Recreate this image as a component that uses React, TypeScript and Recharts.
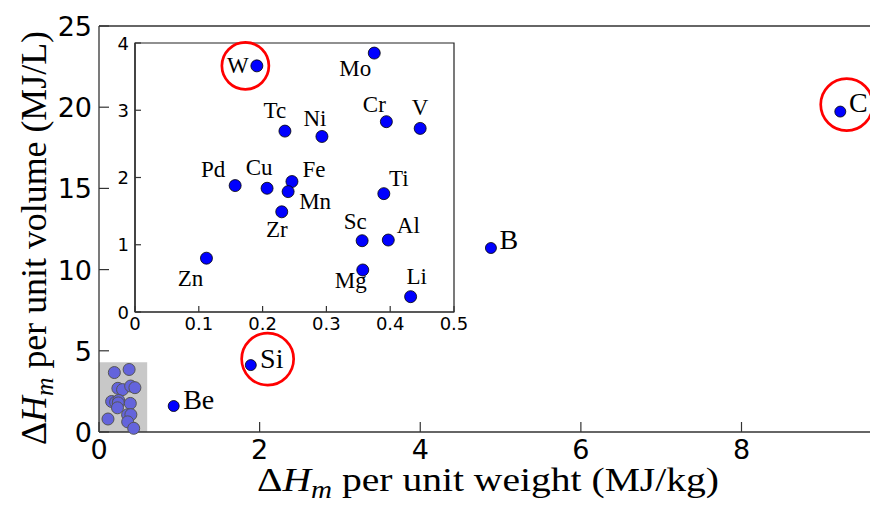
import { ScatterChart, Scatter, XAxis, YAxis, ReferenceArea, ReferenceDot, ReferenceLine } from "recharts"

// main panel: elements outside the 0-0.5 MJ/kg range
const mainNames = ["Be", "Si", "B", "C"]
const mainWeight = [0.93, 1.89, 4.88, 9.23]
const mainVolume = [1.6, 4.12, 11.33, 19.73]

// inset: zoom on the low-weight metals
const insetNames = ["W", "Mo", "Tc", "Ni", "Cr", "V", "Pd", "Cu", "Fe", "Mn", "Ti", "Zr", "Sc", "Al", "Zn", "Mg", "Li"]
const insetWeight = [0.191, 0.375, 0.235, 0.293, 0.394, 0.447, 0.157, 0.207, 0.246, 0.24, 0.39, 0.23, 0.356, 0.397, 0.112, 0.357, 0.432]
const insetVolume = [3.66, 3.85, 2.69, 2.61, 2.83, 2.73, 1.88, 1.84, 1.94, 1.79, 1.76, 1.49, 1.06, 1.07, 0.8, 0.625, 0.228]

const mainXTicks = [0, 2, 4, 6, 8]
const mainYTicks = [0, 5, 10, 15, 20, 25]
const insetXTicks = [0, 0.1, 0.2, 0.3, 0.4, 0.5]
const insetYTicks = [0, 1, 2, 3, 4]

// circled candidates
const mainHighlights = [
  { x: 2.1, y: 4.49 },
  { x: 9.31, y: 20.16 },
]
const insetHighlights = [{ x: 0.173, y: 3.66 }]

// label placement relative to its dot (px)
const labelOffset: Record<string, [number, number]> = {
  Be: [25, -7],
  Si: [21, -7],
  B: [18, -9],
  C: [18, -9],
  W: [-19, 0],
  Mo: [-19, 15],
  Tc: [-10, -21],
  Ni: [-7, -18],
  Cr: [-12, -17],
  V: [0, -21],
  Pd: [-22, -16],
  Cu: [-8, -21],
  Fe: [22, -12],
  Mn: [27, 10],
  Ti: [15, -15],
  Zr: [-5, 18],
  Sc: [-7, -19],
  Al: [20, -15],
  Zn: [-16, 20],
  Mg: [-12, 11],
  Li: [6, -20],
}

const mainData = mainNames.map((name, i) => ({ name, x: mainWeight[i], y: mainVolume[i] }))
const insetData = insetNames.map((name, i) => ({ name, x: insetWeight[i], y: insetVolume[i] }))

const serif = "'Liberation Serif', 'Times New Roman', serif"
const sans = "'DejaVu Sans', sans-serif"

const labeledDot = (r: number, fontSize: number) => (props: any) => {
  const { cx, cy, payload } = props
  const [dx, dy] = labelOffset[payload.name] || [0, 0]
  return (
    <g>
      <circle cx={cx} cy={cy} r={r} fill="#0000ff" stroke="#000" strokeWidth={0.8} />
      <text
        x={cx + dx}
        y={cy + dy}
        textAnchor="middle"
        dominantBaseline="central"
        fontFamily={serif}
        fontSize={fontSize}
        fill="#000"
      >
        {payload.name}
      </text>
    </g>
  )
}

const shadedDot = (props: any) => (
  <circle cx={props.cx} cy={props.cy} r={6} fill="#6464dc" stroke="#555" strokeWidth={1} />
)

const bottomTick = (len: number, size: number, gap: number) => (props: any) => {
  const { x, y, payload } = props
  return (
    <g>
      <line x1={x} y1={y} x2={x} y2={y - len} stroke="#333" strokeWidth={1.2} />
      <text x={x} y={y + gap} textAnchor="middle" fontFamily={sans} fontSize={size} fill="#000">
        {payload.value}
      </text>
    </g>
  )
}

const leftTick = (len: number, size: number, gap: number, shift: number) => (props: any) => {
  const { x, y, payload } = props
  return (
    <g>
      <line x1={x} y1={y} x2={x + len} y2={y} stroke="#333" strokeWidth={1.2} />
      <text x={x - gap} y={y + shift} textAnchor="end" fontFamily={sans} fontSize={size} fill="#000">
        {payload.value}
      </text>
    </g>
  )
}

const xTitle = (props: any) => {
  const vb = props.viewBox
  return (
    <text
      x={vb.x + 389}
      y={vb.y + 59}
      textAnchor="middle"
      fontFamily={serif}
      fontSize={34}
      textLength={462}
      lengthAdjust="spacingAndGlyphs"
      fill="#000"
    >
      <tspan>Δ</tspan>
      <tspan fontStyle="italic">H</tspan>
      <tspan fontStyle="italic" fontSize={25} dy={7}>m</tspan>
      <tspan dy={-7}> per unit weight (MJ/kg)</tspan>
    </text>
  )
}

const yTitle = () => (
  <text
    x={46}
    y={238}
    transform="rotate(-90, 46, 238)"
    textAnchor="middle"
    fontFamily={serif}
    fontSize={35}
    textLength={414}
    lengthAdjust="spacingAndGlyphs"
    fill="#000"
  >
    <tspan>Δ</tspan>
    <tspan fontStyle="italic">H</tspan>
    <tspan fontStyle="italic" fontSize={25} dy={7}>m</tspan>
    <tspan dy={-7}> per unit volume (MJ/L)</tspan>
  </text>
)

export default function App() {
  return (
    <div style={{ position: "absolute", left: 0, top: 0, width: 870, height: 506, background: "#fff" }}>
      <ScatterChart width={870} height={506} margin={{ top: 26, right: 0, bottom: 0, left: 0 }}>
        <XAxis
          type="number"
          dataKey="x"
          domain={[0, 9.6]}
          ticks={mainXTicks}
          height={74}
          tickSize={0}
          tickMargin={0}
          tickLine={false}
          axisLine={{ stroke: "#333", strokeWidth: 1.3 }}
          tick={bottomTick(10, 27, 27)}
          label={{ content: xTitle }}
        />
        <YAxis
          type="number"
          dataKey="y"
          domain={[0, 25]}
          ticks={mainYTicks}
          width={99}
          tickSize={0}
          tickMargin={0}
          tickLine={false}
          axisLine={{ stroke: "#333", strokeWidth: 1.3 }}
          tick={leftTick(10, 27, 7, 10)}
          label={{ content: yTitle }}
        />
        <ReferenceLine y={25} stroke="#333" strokeWidth={1.3} />
        <ReferenceArea x1={0} x2={0.6} y1={0} y2={4.3} fill="#c8c8c8" fillOpacity={1} stroke="none" />
        <Scatter data={insetData} shape={shadedDot} isAnimationActive={false} />
        <Scatter data={mainData} shape={labeledDot(5.5, 28)} isAnimationActive={false} />
        {mainHighlights.map((h, i) => (
          <ReferenceDot key={i} x={h.x} y={h.y} r={26} fill="none" stroke="#ff0000" strokeWidth={2.7} ifOverflow="visible" />
        ))}
      </ScatterChart>

      <div style={{ position: "absolute", left: 100, top: 20 }}>
        <ScatterChart width={380} height={320} margin={{ top: 23, right: 26, bottom: 0, left: 0 }}>
          <XAxis
            type="number"
            dataKey="x"
            domain={[0, 0.5]}
            ticks={insetXTicks}
            height={28}
            tickSize={0}
            tickMargin={0}
            tickLine={false}
            axisLine={{ stroke: "#222", strokeWidth: 1.2 }}
            tick={bottomTick(6, 18, 18)}
          />
          <YAxis
            type="number"
            dataKey="y"
            domain={[0, 4]}
            ticks={insetYTicks}
            width={35}
            tickSize={0}
            tickMargin={0}
            tickLine={false}
            axisLine={{ stroke: "#222", strokeWidth: 1.2 }}
            tick={leftTick(6, 18, 6, 6.5)}
          />
          <ReferenceArea x1={0} x2={0.5} y1={0} y2={4} fill="none" stroke="#222" strokeWidth={1.2} />
          <Scatter data={insetData} shape={labeledDot(6, 23)} isAnimationActive={false} />
          {insetHighlights.map((h, i) => (
            <ReferenceDot key={i} x={h.x} y={h.y} r={23.5} fill="none" stroke="#ff0000" strokeWidth={2.7} ifOverflow="visible" />
          ))}
        </ScatterChart>
      </div>
    </div>
  )
}
